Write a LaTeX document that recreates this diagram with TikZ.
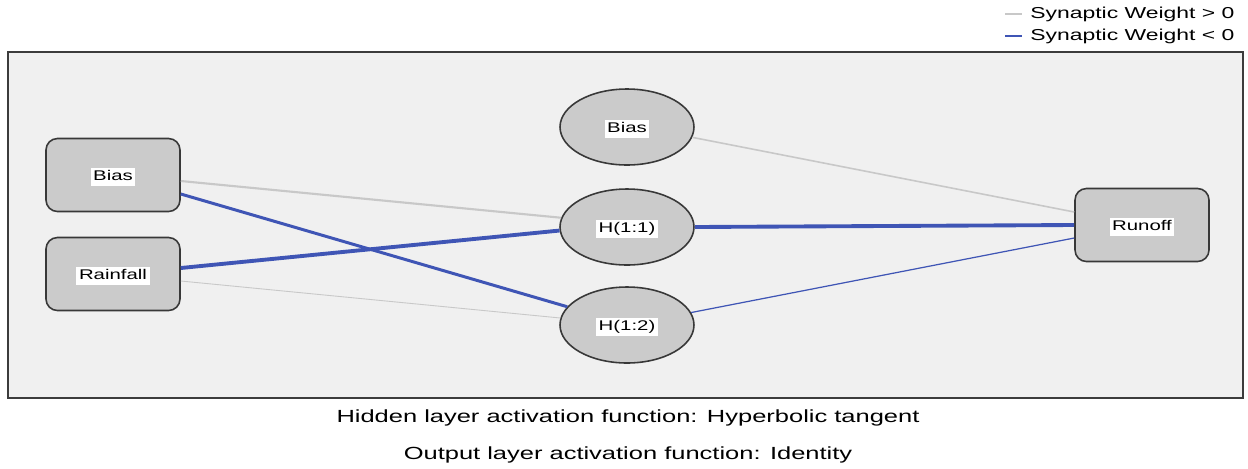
\documentclass[tikz,border=0pt]{standalone}
\usepackage{fontspec}
\setmainfont{Liberation Sans}[FakeStretch=1.45]
\usepackage{tikz}
\usetikzlibrary{shapes.geometric,calc,positioning}
\definecolor{bgfill}{HTML}{F0F0F0}
\definecolor{framecol}{HTML}{3C3C3C}
\definecolor{nodefill}{HTML}{CBCBCB}
\definecolor{nodeline}{HTML}{383838}
\definecolor{posgray}{HTML}{C8C8C8}
\definecolor{negblue}{HTML}{3F55B5}
\setlength{\fboxsep}{1.5pt}
\newcommand{\lbl}[1]{\raisebox{-3.3pt}[0pt][0pt]{\colorbox{white}{\vphantom{Hg}#1}}}

\begin{document}
\begin{tikzpicture}[x=0.02cm, y=-0.02cm,
      unit/.style={rectangle, rounded corners=6.5pt, draw=nodeline, fill=nodefill, line width=0.9pt, inner sep=0pt, minimum width=2.68cm, minimum height=1.46cm, font=\fontsize{8}{9}\selectfont},
      hidden/.style={ellipse, draw=nodeline, fill=nodefill, line width=0.9pt, inner sep=0pt, minimum width=2.68cm, minimum height=1.52cm, font=\fontsize{8}{9}\selectfont},
      wpos/.style={draw=posgray}, wneg/.style={draw=negblue}]

\useasboundingbox (0,0) rectangle (1248,468);
\draw[framecol, fill=bgfill, line width=0.6pt] (8,52) rectangle (1243,398);

% legend
\node[anchor=west, inner sep=0pt, font=\fontsize{9}{10}\selectfont] (lg1) at (1030,14) {Synaptic Weight > 0};
\node[anchor=west, inner sep=0pt, font=\fontsize{9}{10}\selectfont] (lg2) at (1030,36) {Synaptic Weight < 0};
\draw[wpos, line width=0.6pt] ([xshift=-0.5cm]lg1.west) -- ([xshift=-0.16cm]lg1.west);
\draw[wneg, line width=0.6pt] ([xshift=-0.5cm]lg2.west) -- ([xshift=-0.16cm]lg2.west);

% layers
\node[unit] (i0) at (113,175) {\lbl{Bias}};
\node[unit] (i1) at (113,274) {\lbl{Rainfall}};
\node[hidden] (h0) at (627,127) {\lbl{Bias}};
\node[hidden] (h1) at (627,227) {\lbl{H(1:1)}};
\node[hidden] (h2) at (627,325) {\lbl{H(1:2)}};
\node[unit] (o1) at (1142,225) {\lbl{Runoff}};

% weights
\draw[wpos, line width=1.2pt] ($(i0.east)+(0,6)$) -- (h1.172);
\draw[wpos, line width=0.5pt] ($(i1.east)+(0,7)$) -- (h2.174);
\draw[wpos, line width=0.9pt] (h0.351) -- ($(o1.west)+(0,-13)$);
\draw[wneg, line width=1.7pt] ($(i0.east)+(0,19)$) -- (h2.163);
\draw[wneg, line width=2.2pt] ($(i1.east)+(0,-6)$) -- (h1.183);
\draw[wneg, line width=2.2pt] (h1.east) -- (o1.west);
\draw[wneg, line width=0.7pt] (h2.11) -- ($(o1.west)+(0,13)$);

% activation functions
\node[font=\fontsize{10}{12}\selectfont] (cap1) at (628,418) {Hidden layer activation function: Hyperbolic tangent};
\node[font=\fontsize{10}{12}\selectfont] (cap2) at (628,455) {Output layer activation function: Identity};

\end{tikzpicture}
\end{document}
